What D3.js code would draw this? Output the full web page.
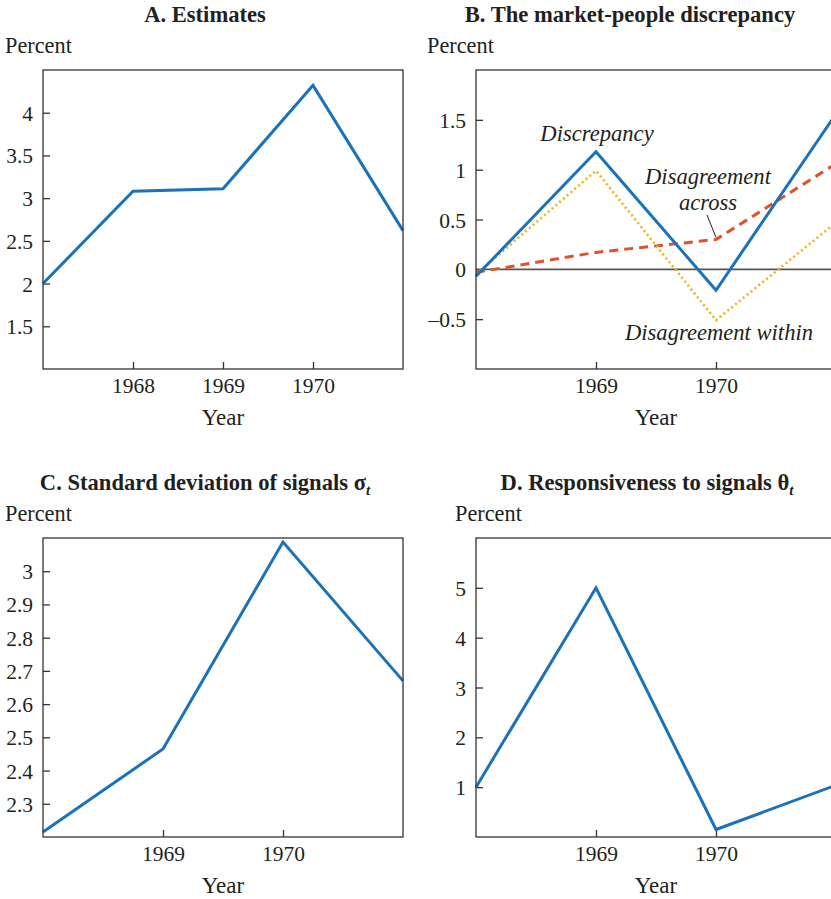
<!DOCTYPE html>
<html>
<head>
<meta charset="utf-8">
<script src="https://cdn.jsdelivr.net/npm/d3@7"></script>
<style>
	body { margin: 0; background: #fff; }
	svg { display: block; }
	text { font-family: 'Liberation Serif', 'Times New Roman', serif; fill: #231f20; }
</style>
</head>
<body>
<script>
// data
var yearsA = [1967, 1968, 1969, 1970, 1971];
var estimates = [2.0, 3.08, 3.11, 4.32, 2.62];

var yearsB = [1968, 1969, 1970, 1971];
var discrepancy = [-0.07, 1.18, -0.21, 1.56];
var disagreementAcross = [-0.03, 0.17, 0.30, 1.06];
var disagreementWithin = [-0.05, 0.99, -0.51, 0.47];

var yearsC = [1968, 1969, 1970, 1971];
var sigma = [2.215, 2.465, 3.088, 2.67];

var yearsD = [1968, 1969, 1970, 1971];
var theta = [1.0, 5.0, 0.15, 1.04];

var ticksA = [1.5, 2, 2.5, 3, 3.5, 4];
var ticksB = [-0.5, 0, 0.5, 1, 1.5];
var ticksC = [2.3, 2.4, 2.5, 2.6, 2.7, 2.8, 2.9, 3];
var ticksD = [1, 2, 3, 4, 5];

var blue = '#1a73ba';
var red = '#e1522b';
var gold = '#f2b01e';

var width = 831;
var height = 899;

var svg = d3.select('body')
	.append('svg')
	.attr('width', width)
	.attr('height', height);

function fmt (v) {
	return String(v).replace('-', '\u2013');
}

// one panel
function draw_panel (p) {
	var g = svg.append('g');

	var x = d3.scaleLinear().domain(p.xDomain).range([p.left, p.right]);
	var y = d3.scaleLinear().domain(p.yDomain).range([p.bottom, p.top]);

	// title
	var t = g.append('text')
		.attr('x', p.titleX)
		.attr('y', p.titleY)
		.attr('text-anchor', 'middle')
		.attr('font-size', 22.6)
		.attr('font-weight', 'bold')
		.text(p.title);
	if (p.sub) {
		t.append('tspan').text(p.sub);
		t.append('tspan')
			.attr('font-style', 'italic')
			.attr('font-size', 15)
			.attr('dy', 5)
			.text('t');
	}

	g.append('text')
		.attr('x', p.unitX)
		.attr('y', p.unitY)
		.attr('font-size', 22.3)
		.text('Percent');

	// axes
	var yAxis = d3.axisLeft(y)
		.tickValues(p.yTicks)
		.tickSize(-7)
		.tickPadding(10)
		.tickFormat(fmt);
	var xAxis = d3.axisBottom(x)
		.tickValues(p.xTicks)
		.tickSize(-7)
		.tickPadding(9)
		.tickFormat(d3.format('d'));

	var ya = g.append('g')
		.attr('transform', 'translate(' + p.left + ',0)')
		.call(yAxis);
	var xa = g.append('g')
		.attr('transform', 'translate(0,' + p.bottom + ')')
		.call(xAxis);
	[ya, xa].forEach(function (a) {
		a.select('.domain').remove();
		a.selectAll('line').attr('stroke', '#333').attr('stroke-width', 1.3);
		a.selectAll('text')
			.attr('font-size', 21.5)
			.attr('font-family', 'Liberation Serif, serif')
			.attr('fill', '#231f20');
	});
	ya.selectAll('text').attr('dy', '0.35em');

	g.append('text')
		.attr('x', (p.left + p.right) / 2)
		.attr('y', p.yearY)
		.attr('text-anchor', 'middle')
		.attr('font-size', 23)
		.text('Year');

	// zero line
	if (p.zero) {
		g.append('line')
			.attr('x1', p.left)
			.attr('x2', p.right)
			.attr('y1', y(0))
			.attr('y2', y(0))
			.attr('stroke', '#555')
			.attr('stroke-width', 1.6);
	}

	// series
	p.series.forEach(function (s) {
		var line = d3.line()
			.x(function (d, i) { return x(p.years[i]); })
			.y(function (d) { return y(d); });
		g.append('path')
			.datum(s.values)
			.attr('d', line)
			.attr('fill', 'none')
			.attr('stroke', s.color)
			.attr('stroke-width', s.dash === '2,3' ? 2.6 : 3)
			.attr('stroke-dasharray', s.dash || null)
			.attr('stroke-linejoin', 'miter');
	});

	// frame
	g.append('rect')
		.attr('x', p.left)
		.attr('y', p.top)
		.attr('width', p.right - p.left)
		.attr('height', p.bottom - p.top)
		.attr('fill', 'none')
		.attr('stroke', '#333')
		.attr('stroke-width', 1.3);

	return {x: x, y: y, g: g};
}

draw_panel({
	title: 'A. Estimates',
	titleX: 205, titleY: 22,
	unitX: 5, unitY: 53,
	left: 43, right: 403, top: 70, bottom: 369, yearY: 425,
	xDomain: [1967, 1971], yDomain: [1, 4.5],
	xTicks: [1968, 1969, 1970], yTicks: ticksA,
	years: yearsA,
	series: [{values: estimates, color: blue}]
});

var pb = draw_panel({
	title: 'B. The market-people discrepancy',
	titleX: 630, titleY: 22,
	unitX: 427, unitY: 53,
	left: 476, right: 836, top: 70, bottom: 369, yearY: 425,
	xDomain: [1968, 1971], yDomain: [-1, 2],
	xTicks: [1969, 1970], yTicks: ticksB,
	years: yearsB, zero: true,
	series: [
		{values: disagreementAcross, color: red, dash: '9,6'},
		{values: disagreementWithin, color: gold, dash: '2,3'},
		{values: discrepancy, color: blue}
	]
});

// labels in panel B
var labelsB = [
	{text: 'Discrepancy', x: 597, y: 141},
	{text: 'Disagreement', x: 708, y: 184},
	{text: 'across', x: 708, y: 210},
	{text: 'Disagreement within', x: 719, y: 340}
];
pb.g.selectAll('.lbl')
	.data(labelsB).enter()
	.append('text')
	.attr('class', 'lbl')
	.attr('x', function (d) { return d.x; })
	.attr('y', function (d) { return d.y; })
	.attr('text-anchor', 'middle')
	.attr('font-size', 22.6)
	.attr('font-style', 'italic')
	.text(function (d) { return d.text; });

pb.g.append('line')
	.attr('x1', 707).attr('y1', 215)
	.attr('x2', pb.x(1970)).attr('y2', pb.y(disagreementAcross[2]) - 2)
	.attr('stroke', '#231f20')
	.attr('stroke-width', 1);

draw_panel({
	title: 'C. Standard deviation of signals ',
	sub: '\u03c3',
	titleX: 205, titleY: 490,
	unitX: 5, unitY: 521,
	left: 43, right: 403, top: 538, bottom: 837, yearY: 893,
	xDomain: [1968, 1971], yDomain: [2.2, 3.1],
	xTicks: [1969, 1970], yTicks: ticksC,
	years: yearsC,
	series: [{values: sigma, color: blue}]
});

draw_panel({
	title: 'D. Responsiveness to signals ',
	sub: '\u03b8',
	titleX: 647, titleY: 490,
	unitX: 455, unitY: 521,
	left: 476, right: 836, top: 538, bottom: 837, yearY: 893,
	xDomain: [1968, 1971], yDomain: [0, 6],
	xTicks: [1969, 1970], yTicks: ticksD,
	years: yearsD,
	series: [{values: theta, color: blue}]
});
</script>
</body>
</html>
